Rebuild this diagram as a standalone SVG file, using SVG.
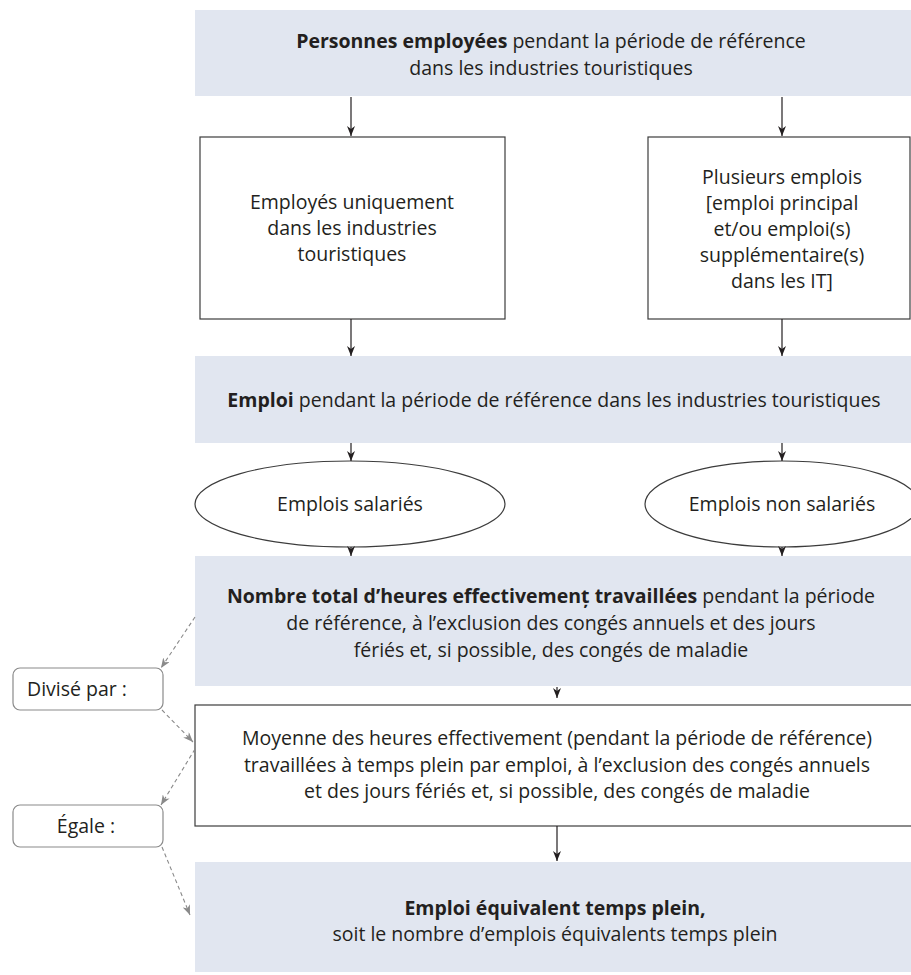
<svg xmlns="http://www.w3.org/2000/svg" width="911" height="975" viewBox="0 0 911 975">
<style>
text{font-family:"Open Sans","Liberation Sans",sans-serif;font-size:19.5px;fill:#231f20;text-anchor:middle}
.b{font-weight:bold}
.fill{fill:#e1e6f0;stroke:none}
.box{fill:#fff;stroke:#3c3c3c;stroke-width:1.2}
.side{fill:#fff;stroke:#8a8a8a;stroke-width:1.2}
.arr{stroke:#231f20;stroke-width:1.2;fill:none;marker-end:url(#ah)}
.dash{stroke:#8a8a8a;stroke-width:1.1;fill:none;stroke-dasharray:4 3;marker-end:url(#ahg)}
</style>
<defs>
<marker id="ah" viewBox="0 0 10 8" refX="10" refY="4" markerWidth="10" markerHeight="8" markerUnits="userSpaceOnUse" orient="auto">
<path d="M0,0 L10,4 L0,8 L3,4 z" fill="#231f20"/>
</marker>
<marker id="ahg" viewBox="0 0 10 8" refX="10" refY="4" markerWidth="10" markerHeight="8" markerUnits="userSpaceOnUse" orient="auto">
<path d="M0,0 L10,4 L0,8 L3,4 z" fill="#8a8a8a"/>
</marker>
</defs>

<g id="personnes">
<rect class="fill" x="195" y="10" width="716" height="86"/>
<text x="551" y="48"><tspan class="b">Personnes employées</tspan> pendant la période de référence</text>
<text x="551" y="75">dans les industries touristiques</text>
</g>

<g id="uniquement">
<rect class="box" x="200" y="137" width="305" height="182"/>
<text x="352" y="209">Employés uniquement</text>
<text x="352" y="235">dans les industries</text>
<text x="352" y="261">touristiques</text>
</g>

<g id="plusieurs">
<rect class="box" x="648" y="137" width="262" height="182"/>
<text x="782" y="184">Plusieurs emplois</text>
<text x="782" y="210">[emploi principal</text>
<text x="782" y="236">et/ou emploi(s)</text>
<text x="782" y="262">supplémentaire(s)</text>
<text x="782" y="288">dans les IT]</text>
</g>

<g id="emploi">
<rect class="fill" x="195" y="356" width="716" height="87"/>
<text x="554" y="407"><tspan class="b">Emploi</tspan> pendant la période de référence dans les industries touristiques</text>
</g>

<g id="salaries">
<ellipse class="box" cx="350" cy="504" rx="155" ry="43"/>
<text x="350" y="511">Emplois salariés</text>
</g>

<g id="nonsalaries">
<ellipse class="box" cx="782" cy="504" rx="137" ry="43"/>
<text x="782" y="511">Emplois non salariés</text>
</g>

<g id="nombre">
<rect class="fill" x="195" y="556" width="716" height="130"/>
<text x="551" y="603"><tspan class="b">Nombre total d’heures effectivemenț travaillées</tspan> pendant la période</text>
<text x="551" y="630">de référence, à l’exclusion des congés annuels et des jours</text>
<text x="551" y="657">fériés et, si possible, des congés de maladie</text>
</g>

<g id="moyenne">
<rect class="box" x="195" y="705" width="730" height="121"/>
<text x="557" y="745">Moyenne des heures effectivement (pendant la période de référence)</text>
<text x="557" y="772">travaillées à temps plein par emploi, à l’exclusion des congés annuels</text>
<text x="557" y="798">et des jours fériés et, si possible, des congés de maladie</text>
</g>

<g id="etp">
<rect class="fill" x="195" y="862" width="716" height="110"/>
<text x="555" y="915" class="b">Emploi équivalent temps plein,</text>
<text x="555" y="941">soit le nombre d’emplois équivalents temps plein</text>
</g>

<g id="divise">
<rect class="side" x="13" y="668" width="150" height="42" rx="7"/>
<text x="27" y="696" style="text-anchor:start">Divisé par :</text>
</g>

<g id="egale">
<rect class="side" x="13" y="805" width="150" height="42" rx="7"/>
<text x="86" y="833">Égale :</text>
</g>

<g id="connectors">
<line class="arr" x1="351" y1="97" x2="351" y2="136"/>
<line class="arr" x1="782" y1="97" x2="782" y2="136"/>
<line class="arr" x1="351" y1="319" x2="351" y2="356"/>
<line class="arr" x1="782" y1="319" x2="782" y2="356"/>
<line class="arr" x1="351" y1="443" x2="351" y2="461"/>
<line class="arr" x1="782" y1="443" x2="782" y2="461"/>
<line class="arr" x1="351" y1="547" x2="351" y2="556"/>
<line class="arr" x1="782" y1="547" x2="782" y2="556"/>
<line class="arr" x1="557" y1="687" x2="557" y2="698"/>
<line class="arr" x1="557" y1="826" x2="557" y2="861"/>
<line class="dash" x1="195" y1="617" x2="161" y2="668"/>
<line class="dash" x1="162" y1="710" x2="193" y2="742"/>
<line class="dash" x1="195" y1="749" x2="161" y2="805"/>
<line class="dash" x1="162" y1="847" x2="190" y2="915"/>
</g>
</svg>
